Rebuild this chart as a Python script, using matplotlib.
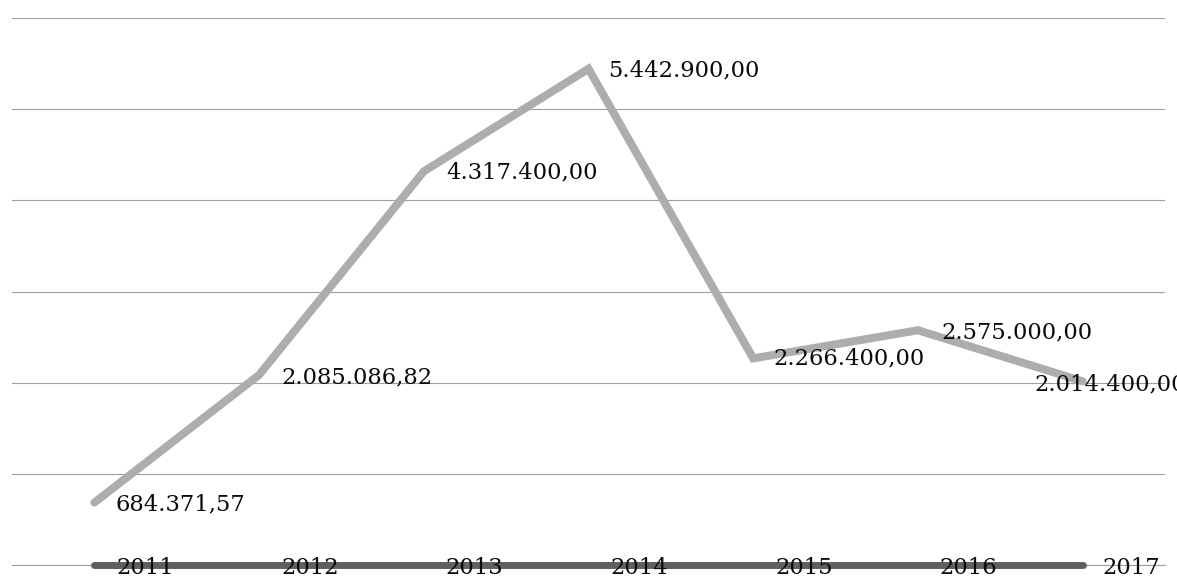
import matplotlib
matplotlib.use("Agg")
from matplotlib import pyplot as plt

years = ["2011", "2012", "2013", "2014", "2015", "2016", "2017"]
values = [684371.57, 2085086.82, 4317400.00, 5442900.00, 2266400.00, 2575000.00, 2014400.00]
baseline = [0, 0, 0, 0, 0, 0, 0]

# horizontal nudge (pixels) of each value label from its point
value_dx = [21, 22, 22, 20, 20, 24, -48]
value_dy = [-2, -3, -1, -2, 0, -2, -3]
year_dx = [22, 22, 22, 22, 22, 22, 20]


def br_format(v):
    s = "{:,.2f}".format(v)
    return s.replace(",", "X").replace(".", ",").replace("X", ".")


fig = plt.figure(figsize=(11.77, 5.76), dpi=100)
ax = fig.add_axes([12 / 1177, 11 / 576, 1153 / 1177, 547 / 576])

x = list(range(len(years)))

ax.set_xlim(-0.5, len(years) - 0.5)
ax.set_ylim(0, 6000000)
ax.set_yticks([0, 1000000, 2000000, 3000000, 4000000, 5000000, 6000000])
ax.grid(axis="y", color="#a0a0a0", linewidth=0.8)
ax.axhline(0, color="#a0a0a0", linewidth=0.8, clip_on=False, zorder=1)
ax.set_axisbelow(True)
ax.tick_params(left=False, bottom=False, labelleft=False, labelbottom=False)
for sp in ax.spines.values():
    sp.set_visible(False)

ax.plot(x, values, color="#adadad", linewidth=5.8, solid_capstyle="round",
        solid_joinstyle="miter", zorder=3, clip_on=False)
ax.plot(x, baseline, color="#606060", linewidth=5.0, solid_capstyle="round",
        zorder=3, clip_on=False)

font = dict(family="DejaVu Serif", fontsize=16.3, color="#0a0a0a")

for i, v in enumerate(values):
    ax.annotate(br_format(v), (x[i], v), xytext=(value_dx[i], value_dy[i]),
                textcoords="offset pixels", ha="left", va="center",
                zorder=5, annotation_clip=False, **font)

for i, y in enumerate(years):
    ax.annotate(y, (x[i], baseline[i]), xytext=(year_dx[i], -3),
                textcoords="offset pixels", ha="left", va="center",
                zorder=5, annotation_clip=False, **font)

fig.savefig("out.png", dpi=100)
